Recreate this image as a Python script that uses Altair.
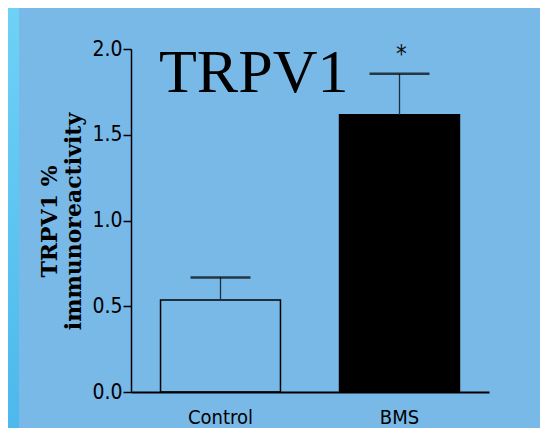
import altair as alt
import pandas as pd

groups = ["Control", "BMS"]
means = [0.536, 1.616]
sems = [0.132, 0.239]
fills = ["#78b9e8", "#000000"]
sig_marks = ["", "*"]
sig_y = [1.925, 1.925]
y_ticks = [0.0, 0.5, 1.0, 1.5, 2.0]

df = pd.DataFrame({
    "group": groups,
    "mean": means,
    "upper": [m + s for m, s in zip(means, sems)],
    "sig": sig_marks,
    "sig_y": sig_y,
})

NARROW = "Liberation Sans Narrow, DejaVu Sans Condensed, Arial Narrow, sans-serif"

xenc = alt.X("group:N", sort=groups,
             scale=alt.Scale(paddingInner=0.33, paddingOuter=0.165),
             axis=alt.Axis(title=None, labelAngle=0, ticks=False, labelFont=NARROW,
                           labelFontSize=20, labelPadding=15.5, labelColor="black",
                           domainColor="black", domainWidth=2, zindex=1))
yscale = alt.Scale(domain=[0, 2], nice=False, zero=True)
yaxis = alt.Axis(values=y_ticks, format=".1f", grid=False, labelFont=NARROW,
                 labelFontSize=21, labelColor="black", labelPadding=1,
                 tickSize=8, tickWidth=1.5, tickColor="black",
                 domainColor="black", domainWidth=1.5, zindex=1,
                 title=["TRPV1 %", "immunoreactivity"], titleFont="DejaVu Serif",
                 titleFontWeight="bold", titleFontSize=22, titleColor="black",
                 titleAngle=270, titleX=-75, titleY=172, titleAlign="center",
                 titleBaseline="alphabetic", titleLineHeight=24)

one = pd.DataFrame({"k": [0]})
strip_grad = alt.LinearGradient(
    gradient="linear",
    stops=[alt.GradientStop(color="#6ed2f6", offset=0),
           alt.GradientStop(color="#4cb8ec", offset=1)],
    x1=0, x2=0, y1=0, y2=1)

strip = alt.Chart(one).mark_rect(fill=strip_grad).encode(
    x=alt.value(-123), x2=alt.value(-112), y=alt.value(-41), y2=alt.value(379))

base = alt.Chart(df)
bars = base.mark_bar(stroke="black", strokeWidth=1.5).encode(
    x=xenc,
    y=alt.Y("mean:Q", scale=yscale, axis=yaxis),
    fill=alt.Fill("group:N", scale=alt.Scale(domain=groups, range=fills), legend=None),
)
err = base.mark_rule(color="#1f2f3c", strokeWidth=1.3).encode(
    x=alt.X("group:N", sort=groups), y="mean:Q", y2="upper:Q")
caps = base.mark_tick(color="black", thickness=2.5, size=60, orient="horizontal").encode(
    x=alt.X("group:N", sort=groups), y="upper:Q")
star = base.mark_text(font=NARROW, fontSize=24, color="#111111", baseline="alphabetic",
                      align="center", dx=2).encode(
    x=alt.X("group:N", sort=groups), y="sig_y:Q", text="sig:N")
title = alt.Chart(one).mark_text(text="TRPV1", font="Liberation Serif", fontSize=62,
                                 color="black", align="left", baseline="alphabetic").encode(
    x=alt.value(28), y=alt.value(42.7))

chart = alt.layer(strip, bars, err, caps, star, title).properties(
    width=358, height=343,
    autosize=alt.AutoSizeParams(type="none"),
    padding={"left": 123, "top": 41, "right": 51, "bottom": 36},
    background="#78b9e8",
).configure_view(stroke=None)

chart.save("out.html", embed_options={"renderer": "svg", "actions": False})
